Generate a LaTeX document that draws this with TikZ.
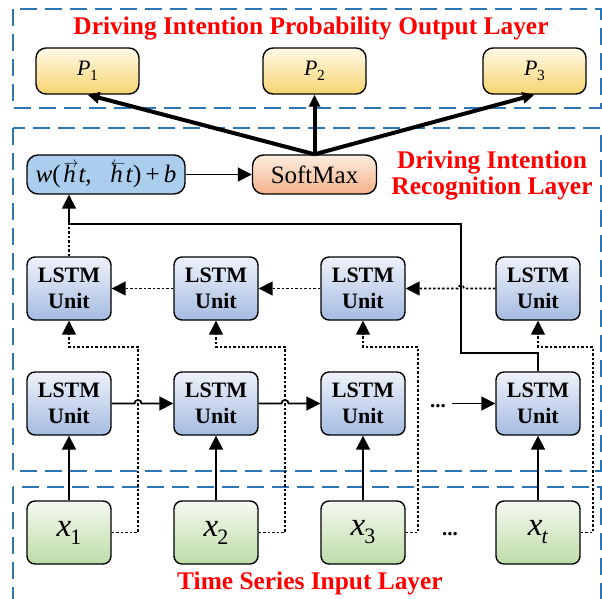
\documentclass[tikz,border=0pt]{standalone}
\usepackage{fontspec}
\usepackage{graphicx}
\setmainfont{Liberation Serif}
\usetikzlibrary{arrows.meta,calc}
\definecolor{dashblue}{RGB}{46,117,182}
\definecolor{lstmtop}{RGB}{238,242,250}
\definecolor{lstmbot}{RGB}{165,187,225}
\definecolor{inptop}{RGB}{244,249,240}
\definecolor{inpbot}{RGB}{190,220,168}
\definecolor{ptop}{RGB}{255,250,232}
\definecolor{pbot}{RGB}{247,212,112}
\definecolor{smtop}{RGB}{253,236,224}
\definecolor{smbot}{RGB}{244,178,136}
\definecolor{wfill}{RGB}{171,205,238}
\newcommand\psub[2]{\textit{#1}\kern-0.5pt\raisebox{-4.5pt}{\fontsize{15.5}{15.5}\selectfont #2}}
\newcommand\xsub[2]{\textit{#1}\kern-1pt\raisebox{-8pt}{\fontsize{22}{22}\selectfont #2}}
\newcommand\harr[2]{\leavevmode\vbox{\offinterlineskip\halign{\hfil##\hfil\cr\hbox{\kern3pt\scalebox{0.6}{$#1$}}\cr\noalign{\kern-2.5pt}\hbox{\textit{#2}}\cr}}}
\begin{document}
\begin{tikzpicture}[x=1pt,y=-1pt,
  unitbox/.style={draw=black, line width=1.4pt, rounded corners=8pt, minimum width=84pt, minimum height=63pt, inner sep=0pt, align=center},
  lstm/.style={unitbox, top color=lstmtop, bottom color=lstmbot, font=\fontsize{22}{25.5}\selectfont\bfseries},
  inp/.style={unitbox, top color=inptop, bottom color=inpbot, font=\fontsize{33}{33}\selectfont},
  pbox/.style={unitbox, minimum width=103pt, minimum height=46pt, rounded corners=10pt, top color=ptop, bottom color=pbot, font=\fontsize{22}{22}\selectfont},
  wbox/.style={unitbox, minimum width=158pt, minimum height=39pt, rounded corners=11pt, fill=wfill, font=\fontsize{25}{25}\selectfont},
  smbox/.style={unitbox, minimum width=124pt, minimum height=39pt, rounded corners=11pt, top color=smtop, bottom color=smbot, font=\fontsize{25}{25}\selectfont},
  layer/.style={draw=dashblue, line width=2pt, dash pattern=on 17pt off 8pt},
  ttl/.style={text=red, font=\fontsize{25.4}{26}\selectfont\bfseries, inner sep=0pt, anchor=base},
  sarrow/.style={line width=1.8pt, -{Triangle[length=14pt,width=14pt]}},
  dotline/.style={line width=1.7pt, dash pattern=on 2.5pt off 2pt},
  dotarrow/.style={dotline, -{Triangle[length=14pt,width=14pt]}},
  tarrow/.style={line width=4pt, -{Triangle[length=12pt,width=11pt]}},
  dotsnode/.style={font=\fontsize{21}{21}\selectfont\bfseries, inner sep=3pt, anchor=base}
]
\useasboundingbox (0,0) rectangle (602,599);
% layer frames
\draw[layer] (12.7,9.3) rectangle (601,108);
\draw[layer] (12.7,128) rectangle (601,471);
\draw[layer] (12.7,487) rectangle (601,599.5);
% titles
\node[ttl] (t1) at (311,35) {Driving Intention Probability Output Layer};
\node[ttl] (t2) at (492,168) {Driving Intention};
\node[ttl] (t3) at (492,194) {Recognition Layer};
\node[ttl] (t4) at (310,589) {Time Series Input Layer};
% output boxes
\node[pbox] (P1) at (87.5,71) {\psub{P}{1}};
\node[pbox] (P2) at (314.5,71) {\psub{P}{2}};
\node[pbox] (P3) at (534.5,71) {\psub{P}{3}};
% recognition
\node[wbox] (W) at (106,174.5) {\textit{w}(\harr{\rightarrow}{h}\textit{t},\hspace{16pt}\harr{\leftarrow}{h}\textit{t})\,+\,\textit{b}};
\node[smbox] (S) at (314.5,174.5) {SoftMax};
% LSTM rows
\node[lstm] (T1) at (69,288.5) {LSTM\\Unit};
\node[lstm] (T2) at (216,288.5) {LSTM\\Unit};
\node[lstm] (T3) at (363,288.5) {LSTM\\Unit};
\node[lstm] (T4) at (538,288.5) {LSTM\\Unit};
\node[lstm] (B1) at (69,403.5) {LSTM\\Unit};
\node[lstm] (B2) at (216,403.5) {LSTM\\Unit};
\node[lstm] (B3) at (363,403.5) {LSTM\\Unit};
\node[lstm] (B4) at (538,403.5) {LSTM\\Unit};
% inputs
\node[inp] (X1) at (69,532.5) {\xsub{x}{1}};
\node[inp] (X2) at (216,532.5) {\xsub{x}{2}};
\node[inp] (X3) at (363,532.5) {\xsub{x}{3}};
\node[inp] (X4) at (538,532.5) {\xsub{x}{\textit{t}}};
\node[dotsnode] (fd) at (438,407) {...};
\node[dotsnode] (id) at (450,535) {...};
% helper coordinates
\coordinate (d1) at (138,347);
\coordinate (d2) at (285,347);
\coordinate (d3) at (418,347);
\coordinate (d4) at (593,347);
\coordinate (r1) at (461,353);
\coordinate (r2) at (461,224);
\coordinate (h1a) at ($(d1 |- B1.east)+(-3.5,0)$);
\coordinate (h1b) at ($(d1 |- B1.east)+(3.5,0)$);
\coordinate (h2a) at ($(d2 |- B2.east)+(-3.5,0)$);
\coordinate (h2b) at ($(d2 |- B2.east)+(3.5,0)$);
\coordinate (h3a) at ($(r2 |- T4.west)+(-3,0)$);
\coordinate (h3b) at ($(r2 |- T4.west)+(3,0)$);
% softmax to outputs
\draw[tarrow] (S.north) -- (P1.south);
\draw[tarrow] (S.north) -- (P2.south);
\draw[tarrow] (S.north) -- (P3.south);
\draw[sarrow] (W.east) -- (S.west);
% output merge
\draw[dotline] (T1.north) -- (T1.north |- r2);
\draw[sarrow] (B4.north) |- (r1) -- (r2) -| (W.south -| T1.north);
% forward row
\draw[sarrow] (B1.east) -- (h1a) .. controls ($(h1a)+(0,-4.7)$) and ($(h1b)+(0,-4.7)$) .. (h1b) -- (B2.west);
\draw[sarrow] (B2.east) -- (h2a) .. controls ($(h2a)+(0,-4.7)$) and ($(h2b)+(0,-4.7)$) .. (h2b) -- (B3.west);
\draw[sarrow] ([xshift=3pt]fd.east |- B4.west) -- (B4.west);
% backward row
\draw[dotarrow] (T4.west) -- (h3b) .. controls ($(h3b)+(0,-4)$) and ($(h3a)+(0,-4)$) .. (h3a) -- (T3.east);
\draw[dotarrow] (T3.west) -- (T2.east);
\draw[dotarrow] (T2.west) -- (T1.east);
% inputs up
\draw[sarrow] (X1.north) -- (B1.south);
\draw[sarrow] (X2.north) -- (B2.south);
\draw[sarrow] (X3.north) -- (B3.south);
\draw[sarrow] (X4.north) -- (B4.south);
\draw[dotarrow] (X1.east) -| (d1) -| (T1.south);
\draw[dotarrow] (X2.east) -| (d2) -| (T2.south);
\draw[dotarrow] (X3.east) -| (d3) -| (T3.south);
\draw[dotarrow] (X4.east) -| (d4) -| (T4.south);
\end{tikzpicture}
\end{document}
